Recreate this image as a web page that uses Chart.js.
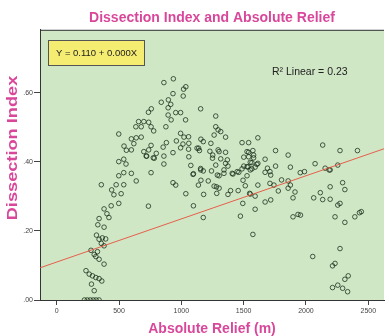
<!DOCTYPE html>
<html>
<head>
<meta charset="utf-8">
<script src="https://cdn.jsdelivr.net/npm/chart.js@4.4.0/dist/chart.umd.min.js"></script>
<style>
  html, body { margin: 0; padding: 0; background: #fff; }
  canvas { display: block; }
</style>
</head>
<body>
<canvas id="myChart" width="389" height="336"></canvas>
<script>
// Absolute relief (m) and dissection index
const reliefValues = [
    222, 245, 269, 293, 316, 340, 301, 279, 362, 340, 314, 287, 261, 235, 380, 340, 314, 327, 301, 275,
    380, 358, 393, 340, 366, 319, 380, 330, 340, 419, 403, 380, 437, 498, 459, 517, 441, 358, 477, 538,
    638, 736, 498, 538, 599, 757, 498, 538, 556, 722, 783, 860, 860, 498, 599, 638, 678, 619, 540, 559,
    599, 699, 738, 757, 718, 775, 799, 880, 854, 933, 994, 1021, 1058, 960, 1013, 1060, 994, 1058, 1060, 1126,
    1157, 1176, 1145, 1263, 1237, 1252, 1076, 1155, 1176, 1097, 1242, 657, 699, 738, 635, 678, 757, 778, 876, 736,
    759, 860, 936, 1018, 1036, 933, 1015, 839, 896, 915, 894, 894, 918, 955, 994, 1034, 1155, 1276, 1276, 1295,
    1316, 1355, 1295, 1355, 1250, 1316, 1369, 1355, 1374, 1276, 1342, 1289, 1408, 1448, 1487, 1501, 1527, 1553, 1566, 1606,
    1580, 1540, 1501, 1527, 1574, 1487, 1540, 1614, 1672, 1756, 1691, 1711, 1756, 1857, 1875, 1954, 1988, 2073, 2154, 2194,
    2255, 2134, 2273, 2413, 1139, 1229, 1303, 1553, 1592, 1566, 1535, 1580, 1540, 1614, 933, 955, 1036, 1094, 1155, 1137,
    1157, 1216, 1263, 1179, 1097, 1176, 1284, 1303, 1342, 1414, 1461, 1527, 1495, 1513, 1456, 1395, 1374, 1282, 1303, 1553,
    1592, 1614, 1493, 1592, 1474, 1574, 1672, 1717, 1711, 1743, 1778, 1717, 1672, 1804, 1857, 1875, 1857, 1912, 1896, 1896,
    1936, 1956, 2062, 2115, 2134, 2194, 2194, 2294, 2312, 2255, 2273, 2233, 2312, 2392, 2429, 2444, 2054, 2273, 2213, 2233,
    2339, 2312, 2255, 2213, 2294, 2334, 2186, 1548
];
const indexValues = [
    0.000, 0.000, 0.000, 0.000, 0.000, 0.000, 0.027, 0.046, 0.055, 0.062, 0.065, 0.070, 0.075, 0.085, 0.104, 0.118, 0.126, 0.140, 0.132, 0.144,
    0.157, 0.164, 0.177, 0.176, 0.180, 0.188, 0.211, 0.218, 0.236, 0.239, 0.250, 0.264, 0.273, 0.280, 0.305, 0.308, 0.319, 0.334, 0.334, 0.334,
    0.345, 0.272, 0.360, 0.369, 0.367, 0.369, 0.401, 0.408, 0.394, 0.417, 0.411, 0.417, 0.394, 0.481, 0.467, 0.470, 0.472, 0.453, 0.446, 0.434,
    0.435, 0.430, 0.435, 0.448, 0.417, 0.412, 0.425, 0.456, 0.443, 0.427, 0.483, 0.472, 0.473, 0.461, 0.452, 0.454, 0.441, 0.437, 0.415, 0.440,
    0.466, 0.459, 0.433, 0.478, 0.454, 0.420, 0.390, 0.381, 0.374, 0.366, 0.374, 0.517, 0.517, 0.515, 0.502, 0.502, 0.502, 0.490, 0.502, 0.544,
    0.554, 0.630, 0.641, 0.611, 0.618, 0.598, 0.591, 0.573, 0.580, 0.567, 0.557, 0.536, 0.522, 0.543, 0.543, 0.522, 0.554, 0.533, 0.502, 0.493,
    0.488, 0.472, 0.435, 0.428, 0.411, 0.409, 0.406, 0.396, 0.388, 0.391, 0.377, 0.362, 0.367, 0.372, 0.380, 0.388, 0.386, 0.377, 0.398, 0.393,
    0.412, 0.415, 0.414, 0.430, 0.433, 0.456, 0.456, 0.470, 0.408, 0.433, 0.382, 0.372, 0.388, 0.420, 0.385, 0.369, 0.372, 0.395, 0.382, 0.377,
    0.391, 0.449, 0.433, 0.433, 0.440, 0.431, 0.430, 0.399, 0.385, 0.380, 0.386, 0.420, 0.428, 0.396, 0.340, 0.333, 0.308, 0.364, 0.377, 0.333,
    0.347, 0.345, 0.330, 0.306, 0.273, 0.239, 0.309, 0.360, 0.367, 0.365, 0.370, 0.360, 0.347, 0.331, 0.317, 0.317, 0.306, 0.328, 0.324, 0.307,
    0.301, 0.333, 0.280, 0.263, 0.243, 0.190, 0.370, 0.362, 0.338, 0.333, 0.316, 0.290, 0.284, 0.348, 0.345, 0.333, 0.324, 0.313, 0.296, 0.241,
    0.248, 0.246, 0.296, 0.311, 0.291, 0.292, 0.328, 0.340, 0.320, 0.275, 0.280, 0.241, 0.225, 0.241, 0.253, 0.256, 0.126, 0.149, 0.099, 0.106,
    0.070, 0.060, 0.043, 0.036, 0.034, 0.024, 0.377, 0.309
];

const xTicks = [0, 500, 1000, 1500, 2000, 2500];
const yTicks = [0, 0.2, 0.4, 0.6];
const xRange = [-134, 2626];
const yRange = [0, 0.783];

// fitted line Y = 0.110 + 0.000X
const fitIntercept = 0.110;
const fitSlope = 0.000125;
const fitText = 'Y = 0.110 + 0.000X';
const r2Text = 'R\u00B2 Linear = 0.23';

const pink = '#d9479b';
const fontFamily = '"Liberation Sans", Arial, sans-serif';

const plotDecor = {
    id: 'plotDecor',
    beforeDraw(chart) {
        const { ctx, chartArea: a } = chart;
        ctx.save();
        ctx.fillStyle = '#d0e7c6';
        ctx.fillRect(a.left, a.top, a.right - a.left, a.bottom - a.top);
        ctx.restore();
    },
    afterDraw(chart) {
        const { ctx, chartArea: a } = chart;
        ctx.save();

        // top frame line
        ctx.strokeStyle = '#333';
        ctx.lineWidth = 1;
        ctx.beginPath();
        ctx.moveTo(a.left, a.top + 0.5);
        ctx.lineTo(a.right, a.top + 0.5);
        ctx.stroke();

        // y axis title
        ctx.save();
        ctx.translate(13, 148);
        ctx.rotate(-Math.PI / 2);
        ctx.scale(1.3, 1);
        ctx.fillStyle = pink;
        ctx.font = 'bold 14px ' + fontFamily;
        ctx.textAlign = 'center';
        ctx.textBaseline = 'middle';
        ctx.fillText('Dissection Index', 0, 0);
        ctx.restore();

        // equation box
        ctx.fillStyle = '#f5ec72';
        ctx.fillRect(48.5, 40.5, 96, 25);
        ctx.strokeStyle = '#555';
        ctx.strokeRect(48.5, 40.5, 96, 25);
        ctx.fillStyle = '#222';
        ctx.font = '9.5px ' + fontFamily;
        ctx.textAlign = 'center';
        ctx.textBaseline = 'middle';
        ctx.fillText(fitText, 96.5, 53.5);

        // R squared
        ctx.font = '10.5px ' + fontFamily;
        ctx.textAlign = 'left';
        ctx.fillText(r2Text, 272, 72);

        ctx.restore();
    }
};

const points = reliefValues.map((x, i) => ({ x: x, y: indexValues[i] }));
const fitLine = xRange.map(x => ({ x: x, y: fitIntercept + fitSlope * x }));

const ctx = document.getElementById('myChart').getContext('2d');
const myChart = new Chart(ctx, {
    type: 'scatter',
    data: {
        datasets: [{
            label: 'Dissection Index',
            data: points,
            pointRadius: 2.3,
            pointBorderWidth: 1,
            borderColor: 'rgba(20, 40, 20, 0.75)',
            backgroundColor: 'rgba(0, 0, 0, 0)',
            order: 2
        }, {
            label: 'Linear',
            data: fitLine,
            showLine: true,
            borderColor: 'rgba(232, 80, 60, 0.9)',
            borderWidth: 1,
            pointRadius: 0,
            order: 1
        }]
    },
    options: {
        responsive: false,
        animation: false,
        layout: { padding: 0 },
        plugins: {
            legend: { display: false },
            tooltip: { enabled: false },
            title: {
                display: true,
                text: 'Dissection Index and Absolute Relief',
                color: pink,
                fullSize: false,
                font: { family: fontFamily, size: 14, weight: 'bold', lineHeight: 1.2 },
                padding: { top: 10, bottom: 3 }
            }
        },
        scales: {
            x: {
                type: 'linear',
                min: xRange[0],
                max: xRange[1],
                afterBuildTicks: s => { s.ticks = xTicks.map(v => ({ value: v })); },
                afterFit: s => { s.height = 36; },
                grid: { drawOnChartArea: false, drawTicks: true, tickLength: 5, color: '#444' },
                border: { color: '#333', width: 1 },
                ticks: {
                    color: '#444',
                    padding: 2,
                    maxRotation: 0,
                    font: { family: fontFamily, size: 7 },
                    callback: v => String(v)
                },
                title: {
                    display: true,
                    text: 'Absolute Relief (m)',
                    color: pink,
                    padding: 0,
                    font: { family: fontFamily, size: 14, weight: 'bold', lineHeight: 1 }
                }
            },
            y: {
                type: 'linear',
                min: yRange[0],
                max: yRange[1],
                afterBuildTicks: s => { s.ticks = yTicks.map(v => ({ value: v })); },
                afterFit: s => { s.width = 40; },
                grid: { drawOnChartArea: false, drawTicks: true, tickLength: 6, color: '#444' },
                border: { color: '#333', width: 1 },
                ticks: {
                    color: '#444',
                    padding: 1,
                    font: { family: fontFamily, size: 7 },
                    callback: v => v.toFixed(2).replace('0.', '.')
                }
            }
        }
    },
    plugins: [plotDecor]
});
</script>
</body>
</html>
